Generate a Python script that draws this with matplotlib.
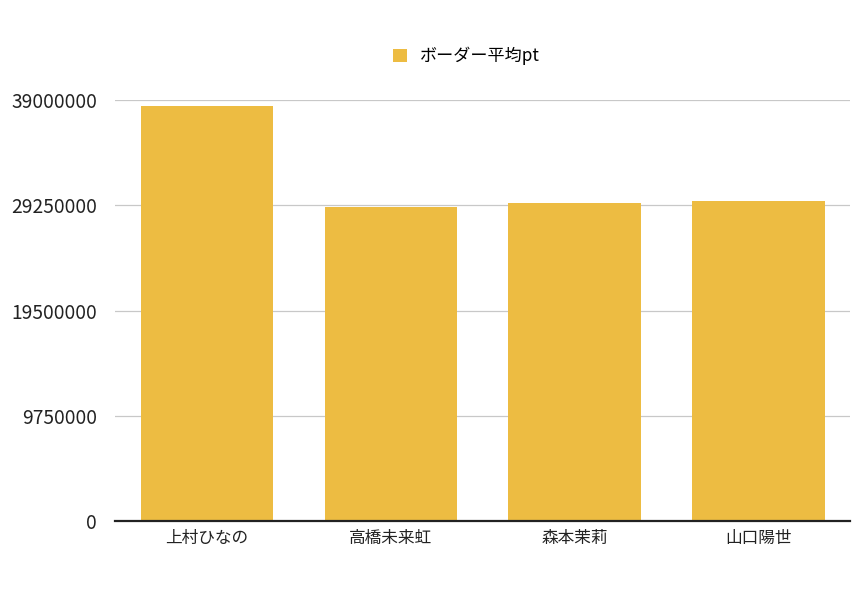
import matplotlib
matplotlib.use("Agg")
import matplotlib.pyplot as plt
from matplotlib.patches import Patch

plt.rcParams['font.family'] = ['Noto Sans CJK JP', 'DejaVu Sans']

# data
members = ["上村ひなの", "高橋未来虹", "森本茉莉", "山口陽世"]
border_avg = [38470000, 29130000, 29500000, 29680000]
y_ticks = [0, 9750000, 19500000, 29250000, 39000000]
series_name = "ボーダー平均pt"
bar_color = "#EDBC42"

fig = plt.figure(figsize=(8.65, 5.91), dpi=100)
ax = fig.add_axes([0.133, 0.1176, 0.850, 0.7132])

x = range(len(members))
ax.bar(x, border_avg, width=0.72, color=bar_color, zorder=2)

ax.set_xlim(-0.5, len(members) - 0.5)
ax.set_ylim(0, 39000000)
ax.set_yticks(y_ticks)
ax.set_yticklabels([str(v) for v in y_ticks], fontsize=13.8, color="#222222")
ax.set_xticks(list(x))
ax.set_xticklabels(members, fontsize=12, color="#222222")
ax.tick_params(axis="both", length=0)
ax.tick_params(axis="y", pad=13)
ax.tick_params(axis="x", pad=6)

ax.grid(axis="y", color="#c8c8c8", linewidth=0.9, zorder=0)
for s in ["top", "right", "left"]:
    ax.spines[s].set_visible(False)
ax.spines["bottom"].set_color("#222222")
ax.spines["bottom"].set_linewidth(1.6)
ax.spines["bottom"].set_zorder(3)

handle = Patch(facecolor=bar_color, edgecolor="none")
fig.legend([handle], [series_name], loc="center", bbox_to_anchor=(0.539, 0.905),
           frameon=False, fontsize=12.3, handlelength=0.85, handleheight=0.85,
           handletextpad=0.75)

fig.savefig("out.png", dpi=100)
